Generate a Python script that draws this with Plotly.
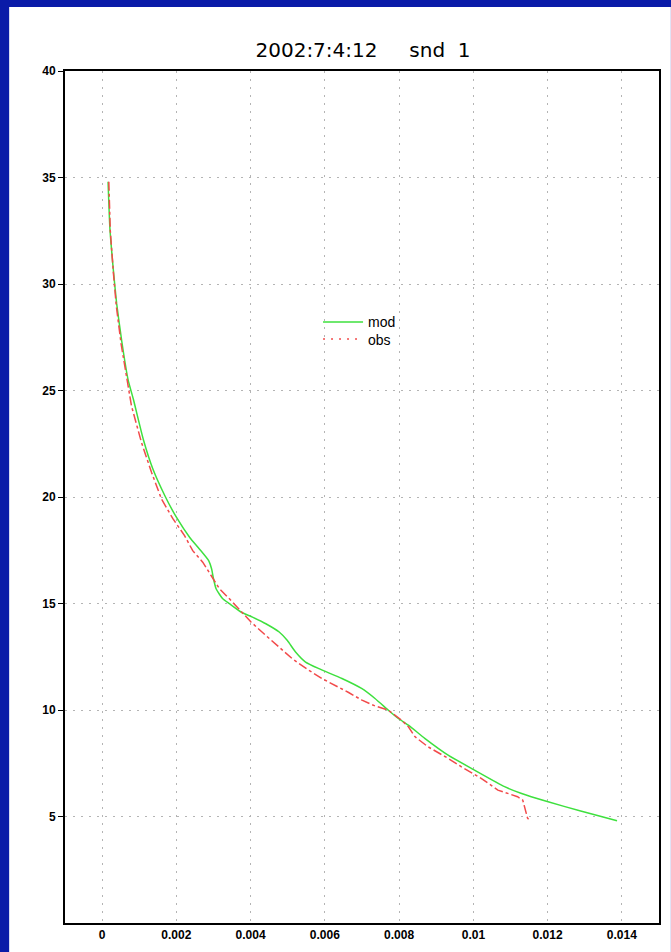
import plotly.graph_objects as go

# ---- data ----
mod_x = [0.00016, 0.00021, 0.00030, 0.00039, 0.00053, 0.00070, 0.00084, 0.00111, 0.00137,
         0.00169, 0.00200, 0.00236, 0.00262, 0.00287, 0.00295, 0.00300, 0.00307, 0.00325,
         0.00343, 0.00374, 0.00405, 0.00441, 0.00477, 0.00499, 0.00521, 0.00548, 0.00584,
         0.00646, 0.00700, 0.00735, 0.00771, 0.00798, 0.00825, 0.00869, 0.00932, 0.01003,
         0.01084, 0.01128, 0.01199, 0.01289, 0.01387]
mod_y = [34.8, 32.6, 30.7, 29.1, 27.3, 25.5, 24.6, 22.7, 21.3,
         20.06, 19.05, 18.1, 17.56, 17.01, 16.62, 16.16, 15.69, 15.22,
         14.99, 14.6, 14.36, 14.05, 13.66, 13.26, 12.72, 12.25, 11.94,
         11.48, 11.0, 10.54, 9.99, 9.6, 9.29, 8.67, 7.88, 7.18,
         6.4, 6.09, 5.7, 5.26, 4.8]

obs_x = [0.00018, 0.00022, 0.00030, 0.00038, 0.00051, 0.00067, 0.00079, 0.00106, 0.00133,
         0.00160, 0.00191, 0.00222, 0.00244, 0.00271, 0.00298, 0.00316, 0.00343, 0.00369,
         0.00401, 0.00441, 0.00477, 0.00512, 0.00557, 0.00592, 0.00664, 0.00700, 0.00735,
         0.00771, 0.00807, 0.00825, 0.00843, 0.00878, 0.00932, 0.00967, 0.01021, 0.01066,
         0.01119, 0.01133, 0.01146, 0.01153]
obs_y = [34.8, 32.5, 30.6, 29.0, 27.2, 25.5, 24.28, 22.56, 21.16,
         19.9, 18.97, 18.19, 17.48, 16.94, 16.16, 15.69, 15.22, 14.75,
         14.13, 13.5, 12.96, 12.41, 11.86, 11.48, 10.82, 10.46, 10.19,
         9.99, 9.52, 9.21, 8.74, 8.27, 7.73, 7.34, 6.79, 6.24,
         5.93, 5.77, 4.92, 4.79]

x_ticks = [0, 0.002, 0.004, 0.006, 0.008, 0.01, 0.012, 0.014]
x_labels = ["0", "0.002", "0.004", "0.006", "0.008", "0.01", "0.012", "0.014"]
y_ticks = [5, 10, 15, 20, 25, 30, 35, 40]
title_text = "2002:7:4:12&nbsp;&nbsp;&nbsp;&nbsp;&nbsp;snd&nbsp;&nbsp;1"

GREEN = "#3ee03e"
RED = "#f24a4a"

fig = go.Figure()
fig.add_trace(go.Scatter(x=mod_x, y=mod_y, mode="lines", name="mod", legend="legend",
                         line=dict(color=GREEN, width=1.5, shape="spline", smoothing=0.5)))
fig.add_trace(go.Scatter(x=obs_x, y=obs_y, mode="lines", name="obs", showlegend=False,
                         line=dict(color=RED, width=1.5, dash="dashdot")))
# legend entry for obs drawn dotted as in the reference
fig.add_trace(go.Scatter(x=[None], y=[None], mode="lines", name="obs", legend="legend2",
                         line=dict(color=RED, width=1.5, dash="2px,6px")))

tickfont = dict(family="Liberation Sans", size=12, color="black", weight="bold")
legfont = dict(family="Liberation Sans", size=14, color="black")
fig.update_layout(
    width=671, height=952,
    margin=dict(l=65, r=10, t=71, b=27),
    paper_bgcolor="#0a1ba8",
    plot_bgcolor="white",
    title=dict(text=title_text, x=0.541, xanchor="center", y=0.947, yanchor="middle",
               font=dict(family="DejaVu Sans", size=20, color="black")),
    showlegend=True,
    legend=dict(x=0.426, y=0.7237, xanchor="left", yanchor="top",
                bgcolor="rgba(0,0,0,0)", borderwidth=0, font=legfont, itemwidth=40),
    legend2=dict(x=0.426, y=0.7037, xanchor="left", yanchor="top",
                 bgcolor="rgba(0,0,0,0)", borderwidth=0, font=legfont, itemwidth=40),
    shapes=[dict(type="rect", xref="paper", yref="paper",
                 x0=-0.094, x1=1.02, y0=-0.04, y1=1.075,
                 fillcolor="white", line=dict(width=0), layer="below")],
)
fig.update_xaxes(range=[-0.001, 0.015], tickvals=x_ticks, ticktext=x_labels,
                 showline=True, linecolor="black", linewidth=2, mirror=True,
                 showgrid=True, gridcolor="#b4b4b4", griddash="2px,6px", gridwidth=1,
                 zeroline=False, ticks="", tickfont=tickfont)
fig.update_yaxes(range=[0, 40], tickvals=y_ticks,
                 showline=True, linecolor="black", linewidth=2, mirror=True,
                 showgrid=True, gridcolor="#b4b4b4", griddash="2px,6px", gridwidth=1,
                 zeroline=False, ticks="outside", ticklen=5, tickwidth=1, tickcolor="black",
                 tickfont=tickfont)

fig.write_html("out.html")
